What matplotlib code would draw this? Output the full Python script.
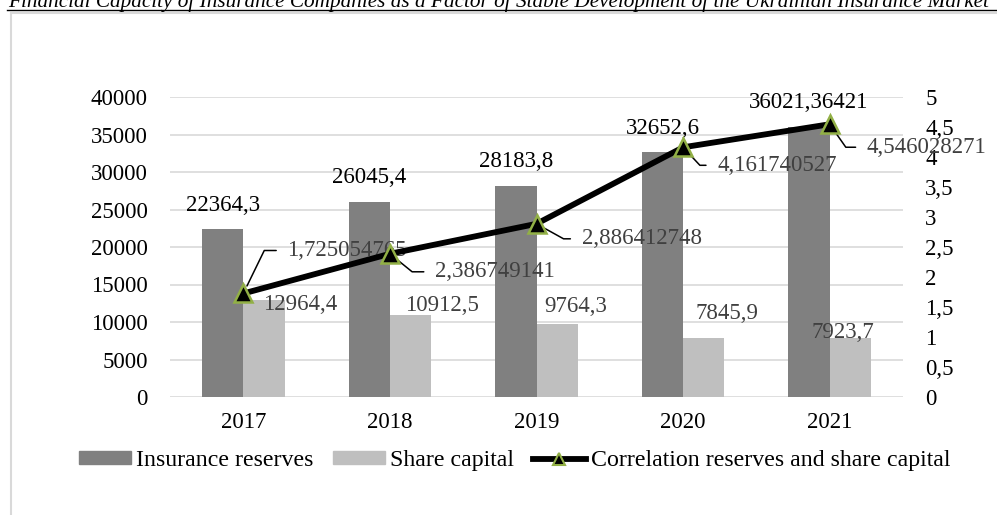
import matplotlib.pyplot as plt
import numpy as np
from matplotlib.lines import Line2D
from matplotlib.ticker import FuncFormatter, MultipleLocator

plt.rcParams['font.family'] = ['Liberation Serif', 'DejaVu Serif']

# values by year
years = ['2017', '2018', '2019', '2020', '2021']
reserves = [22364.3, 26045.4, 28183.8, 32652.6, 36021.36421]
share_capital = [12964.4, 10912.5, 9764.3, 7845.9, 7923.7]
correlation = [1.725054765, 2.386749141, 2.886412748, 4.161740527, 4.546028271]

# hand-placed data labels (pixel offsets)
share_offsets = [(36, -5), (31, 10), (19, 17), (23, 25), (-7, 5)]
corr_offsets = [(44, 43), (45, -18), (45, -15), (34, -18), (37, -23)]
corr_leader_angles = [64, -39, -29, -47, -55]

dark = '#808080'
light = '#bfbfbf'
label_grey = '#404040'
fs = 16.5


def comma(v):
    return str(v).replace('.', ',')


W, H = 997, 515
fig = plt.figure(figsize=(W / 100, H / 100), dpi=100)
ax = fig.add_axes([170 / W, 118 / H, 733 / W, 300 / H])

x = np.arange(len(years))
width = 0.282

ax.bar(x - width / 2, reserves, width, color=dark, zorder=2)
ax.bar(x + width / 2, share_capital, width, color=light, zorder=2)

ax.set_xlim(-0.5, len(years) - 0.5)
ax.set_ylim(0, 40000)
ax.yaxis.set_major_locator(MultipleLocator(5000))
ax.set_xticks(x)
ax.set_xticklabels(years)
ax.grid(axis='y', color='#d9d9d9', linewidth=1.2, zorder=0)
ax.set_axisbelow(True)
for s in ax.spines.values():
    s.set_visible(False)
ax.tick_params(axis='y', length=0, pad=16, labelsize=fs, labelcolor='black')
ax.tick_params(axis='x', length=0, pad=11, labelsize=fs, labelcolor='black')

for i, v in enumerate(reserves):
    ax.annotate(comma(v), (x[i] - width / 2, v), xytext=(0, 24),
                textcoords='offset pixels', ha='center', va='center',
                fontsize=fs, color='black', zorder=5)
for i, v in enumerate(share_capital):
    dx, dy = share_offsets[i]
    ax.annotate(comma(v), (x[i] + width / 2, v), xytext=(dx, dy),
                textcoords='offset pixels', ha='center', va='center',
                fontsize=fs, color=label_grey, zorder=5)

ax2 = ax.twinx()
ax2.set_ylim(0, 5)
ax2.yaxis.set_major_locator(MultipleLocator(0.5))
ax2.yaxis.set_major_formatter(FuncFormatter(lambda v, p: f'{v:g}'.replace('.', ',')))
for s in ax2.spines.values():
    s.set_visible(False)
ax2.tick_params(axis='y', length=0, pad=16, labelsize=fs, labelcolor='black')

ax2.plot(x, correlation, color='black', linewidth=4.2, marker='^', markersize=13.5,
         markerfacecolor='black', markeredgecolor='#92b046', markeredgewidth=1.8,
         zorder=4)

for i, v in enumerate(correlation):
    dx, dy = corr_offsets[i]
    ax2.annotate(comma(v), (x[i], v), xytext=(dx, dy), textcoords='offset pixels',
                 ha='left', va='center', fontsize=fs, color=label_grey, zorder=3,
                 arrowprops=dict(arrowstyle='-', color='black', lw=1.1,
                                 connectionstyle=f'angle,angleA=0,angleB={corr_leader_angles[i]},rad=0',
                                 relpos=(0, 0.5), shrinkA=6, shrinkB=6))

handles = [
    plt.Rectangle((0, 0), 1, 1, color=dark),
    plt.Rectangle((0, 0), 1, 1, color=light),
    Line2D([], [], color='black', linewidth=4.2, marker='^', markersize=9,
           markerfacecolor='black', markeredgecolor='#92b046', markeredgewidth=1.5),
]
fig.legend(handles, ['Insurance reserves', 'Share capital',
                     'Correlation reserves and share capital'],
           loc='center', bbox_to_anchor=(0.516, 0.105), ncol=3, frameon=False,
           fontsize=17.2, handlelength=2.2, handleheight=0.45, handletextpad=0.2,
           columnspacing=0.8, borderpad=0, borderaxespad=0)

# running header of the page above the chart box
title = fig.text(8 / W, 1 - 7 / H,
                 'Financial Capacity of Insurance Companies as a Factor of Stable '
                 'Development of the Ukrainian Insurance Market',
                 ha='left', va='baseline', style='italic', fontsize=14, color='black')
r = fig.canvas.get_renderer()
tw = title.get_window_extent(r).width
title.set_fontsize(14 * 984 / tw)

fig.add_artist(Line2D([7 / W, 1], [1 - 10 / H] * 2, color='black', linewidth=1,
                      transform=fig.transFigure))
fig.add_artist(Line2D([11 / W, 1], [1 - 12.5 / H] * 2, color='#d9d9d9', linewidth=1.5,
                      transform=fig.transFigure))
fig.add_artist(Line2D([11 / W] * 2, [0, 1 - 12.5 / H], color='#d9d9d9', linewidth=1.5,
                      transform=fig.transFigure))

fig.savefig('out.png', dpi=100)
